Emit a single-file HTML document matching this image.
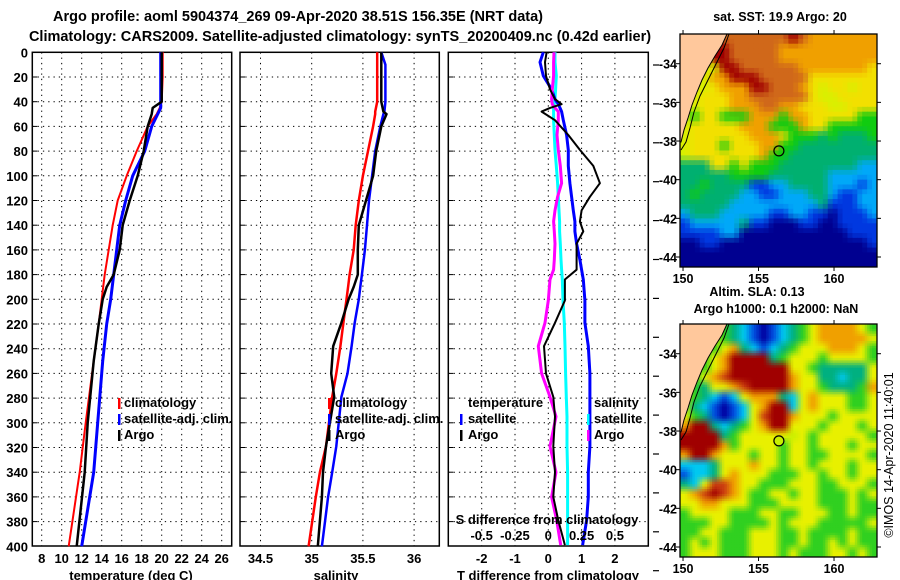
<!DOCTYPE html>
<html><head><meta charset="utf-8">
<style>
html,body{margin:0;padding:0;background:#fff;}
svg{display:block;font-family:"Liberation Sans",Arial,sans-serif;font-weight:bold;}
</style></head>
<body>
<svg id="fig" xmlns="http://www.w3.org/2000/svg" width="900" height="580" viewBox="0 0 900 580">
<text x="298" y="21" font-size="14.5" text-anchor="middle">Argo profile: aoml 5904374_269 09-Apr-2020 38.51S 156.35E (NRT data)</text>
<text x="340" y="41" font-size="14.5" text-anchor="middle">Climatology: CARS2009. Satellite-adjusted climatology: synTS_20200409.nc (0.42d earlier)</text>
<g id="plots"></g>
<text x="780" y="21" font-size="12.5" text-anchor="middle">sat. SST: 19.9 Argo: 20</text>
<text x="757" y="296" font-size="12.5" text-anchor="middle">Altim. SLA: 0.13</text>
<text x="776" y="313" font-size="12.5" text-anchor="middle">Argo h1000: 0.1 h2000: NaN</text>
<text x="0" y="0" font-size="12.5" font-weight="normal" text-anchor="middle" transform="translate(893,455) rotate(-90)">©IMOS 14-Apr-2020 11:40:01</text>
</svg>
<script>
// ---- temperature panel data ----
const tDepth = [0,20,40,45,50,60,80,100,120,140,160,180,190,200,220,250,300,340,400];
const tClim  = [20.1,20.1,20.0,19.8,19.5,18.6,17.5,16.5,15.6,15.1,14.7,14.3,14.15,14.0,13.7,13.2,12.4,11.8,10.7];
const tSat   = [19.9,19.9,19.9,19.9,19.6,19.0,18.3,17.1,16.4,15.8,15.5,15.2,15.05,14.9,14.5,14.1,13.6,13.2,12.0];
const tArgo  = [20.0,20.0,20.0,19.1,19.0,18.6,18.2,17.6,16.8,16.1,15.8,15.2,14.5,14.1,13.7,13.2,12.6,12.3,11.5];
const tTicks = [8,10,12,14,16,18,20,22,24,26];
// ---- salinity panel data ----
const sDepth = [0,10,40,48,50,60,80,100,120,140,160,180,190,200,219,238,260,279,319,340,360,400];
const sClim  = [35.64,35.64,35.64,35.62,35.62,35.60,35.55,35.50,35.46,35.43,35.41,35.37,35.355,35.34,35.31,35.28,35.24,35.20,35.14,35.08,35.04,34.97];
const sSat   = [35.68,35.72,35.72,35.71,35.70,35.67,35.62,35.59,35.56,35.54,35.52,35.49,35.475,35.46,35.42,35.39,35.35,35.29,35.24,35.20,35.16,35.10];
const sArgo  = [35.68,35.68,35.68,35.70,35.73,35.68,35.63,35.60,35.53,35.46,35.45,35.45,35.41,35.36,35.29,35.21,35.19,35.22,35.14,35.11,35.10,35.06];
const sTicks = [34.5,35,35.5,36];
// ---- difference panel data ----
const dDepth = [0,8,19,30,38,42,45,48,55,67,79,92,106,117,128,137,145,155,168,176,184,201,219,238,260,279,295,319,340,360,379,399];
const dTArgo = [-0.05,-0.1,-0.07,0.05,0.2,0.4,0.05,-0.2,0.2,0.6,0.95,1.35,1.55,1.25,1.0,0.95,1.05,0.85,0.85,0.85,0.5,0.5,0.2,-0.13,-0.07,0.15,0.2,0.15,0.2,0.15,0.3,0.5];
const dTSat  = [-0.15,-0.25,-0.15,0.1,0.2,0.3,0.35,0.4,0.45,0.55,0.6,0.6,0.65,0.7,0.75,0.8,0.8,0.85,0.95,1.0,1.05,1.1,1.1,1.2,1.25,1.25,1.25,1.25,1.2,1.2,1.15,1.03];
const dSArgo = [0.043,0.04,0.04,0.03,0.025,0.03,0.05,0.075,0.075,0.065,0.075,0.09,0.1,0.07,0.05,0.04,0.045,0.05,0.045,0.04,0.013,0.0,-0.025,-0.075,-0.05,0.013,0.058,0.013,0.058,0.025,0.063,0.093];
const dSSat  = [0.05,0.05,0.06,0.055,0.05,0.045,0.04,0.04,0.04,0.045,0.05,0.06,0.07,0.075,0.08,0.085,0.085,0.09,0.095,0.1,0.105,0.11,0.12,0.125,0.13,0.135,0.14,0.14,0.145,0.145,0.145,0.145];
const dTTicks = [-2,-1,0,1,2];
const dSTicks = [-0.5,-0.25,0,0.25,0.5];
const depthTicks = [0,20,40,60,80,100,120,140,160,180,200,220,240,260,280,300,320,340,360,380,400];
// ---- map grids (colour codes per cell) ----
const sstGrid = [
"LLLRoooooooRoOOOOOOO","LLLRRoooooOOOOOOOOOO","LLyRRoooooOOOOOOOOOO","LLyyRRooooooOOOOOOOY",
"LyyOORRRoooooYYYYYYY","LyyYOOORRoooOYyYYyYY","LyYYYOOooooooYyyYYYY","yyYYYOOOooOOYYYyyYYY",
"ygYYgggOOOgOOYYYYYgg","yYYYYYOOOgggOYYggggg","yYYYYYYOOOYgggGgGGGg","yYYYgYYYOOggGGGGGGGG",
"yYYYYYYYOggGGGGGGGGG","GGGYYgYgggGGGGGGGGcc","GGGGGggggGGGGGGccccc","GGgGGGGbbccGGGGcccbc",
"GgGGGGccbbcccGGcbbcc","GGGGGcccccccccGbbbcc","cGGGcccccbbccbbnbbbc","bcccccGbbnnnbbnnbbbb",
"bbbbccnnnnnnnnnnnbbb","nnbbnnnnnnnnnnnnnnnb","nnnnnnnnnnnnnnnnnnnn","nnnnnnnnnnnnnnnnnnnn"];
const slaGrid = [
"LLLYgGcbnbcGgYOOOOYg","LLLygGcbnbcGgYOOOOOY","LLygYOGcbcGgYYYOOOYg","LygYORRRRGgYYYgYYYYg",
"LygYORRRRRRYYgGGGGGY","LgYOrRRRRRROYYGGcGGY","LgGYYOrRRRROYYgGGGgO","ygGcbcYOOOGcYOYYYggY",
"yGcbnbcYORRcYOYYYggY","YgGbnbcYrRROYYYgYYYY","ORRGcGgYORRYYYgYYYgY","RRRRGgYYYYYyYgYYYYYg",
"RRRROgYYYYgYYgYYYgYY","ORROYYYgYYgYYggYYYYg","cccGYYYOYYgYYgYYYgYY","bccGYOYYYgggYYgYYgYY",
"GcYrrOYYgggYYYggYYYg","YOrRrOYggYYgYYgggYgY","YYOOYYYgggYYYYgggYgg","gYYYYgggYYggYYYggYgg",
"gggYYggggYgYYYgggggY","ggYYgggYYYggYggggYgg","gYgYgggYYYggYggYgYgg","gYYYgggYYYgYgggYYgYg"];
const mapLatTicks = [-34,-36,-38,-40,-42,-44];
const mapLonTicks = [150,155,160];
const argoLon = 156.35, argoLat = -38.51;

const NS = "http://www.w3.org/2000/svg";
const root = document.getElementById('plots');
function mk(tag, attrs, parent) {
  const e = document.createElementNS(NS, tag);
  for (const k in attrs) e.setAttribute(k, attrs[k]);
  (parent || root).appendChild(e);
  return e;
}
const Y0 = 52.3, YPX = 1.235, YB = 546;
function yD(d) { return Y0 + d * YPX; }

function panel(name, x0, x1, xf, ticks, tickFmt) {
  const g = mk('g', {});
  
  
  ticks.forEach(t => {
    const gl = mk('line', {x1: xf(t), x2: xf(t), y1: Y0, y2: YB, stroke: '#000', 'stroke-width': 1, 'stroke-dasharray': '1.3,4'}, g);
    
    
    const tl = mk('text', {x: xf(t), y: 563, 'font-size': 13, 'text-anchor': 'middle'}, g);
    tl.textContent = tickFmt(t);
    
    
  });
  depthTicks.forEach(d => {
    if (d === 0 || d === 400) return;
    const gl = mk('line', {x1: x0, x2: x1, y1: yD(d), y2: yD(d), stroke: '#000', 'stroke-width': 1, 'stroke-dasharray': '1.3,4'}, g);
    
    
    mk('line', {x1: x0, x2: x0 + 5, y1: yD(d), y2: yD(d), stroke: '#000', 'stroke-width': 1}, g);
  });
  const fr = mk('rect', {x: x0, y: Y0, width: x1 - x0, height: YB - Y0, fill: 'none', stroke: '#000', 'stroke-width': 1.5}, g);
  
  
  return g;
}
function series(g, name, xs, ds, xf, color, w) {
  let p = '';
  for (let i = 0; i < xs.length; i++) p += (i ? 'L' : 'M') + xf(xs[i]).toFixed(1) + ',' + yD(ds[i]).toFixed(1);
  const e = mk('path', {d: p, fill: 'none', stroke: color, 'stroke-width': w, 'stroke-linejoin': 'round'}, g);
  
  
}
function txt(g, name, x, y, s, anchor, size) {
  const e = mk('text', {x: x, y: y, 'font-size': size || 13, 'text-anchor': anchor || 'start'}, g);
  e.textContent = s;
  
  
  return e;
}
function legTick(g, x, y, color) {
  const e = mk('rect', {x: x, y: y - 10, width: 2.5, height: 11, fill: color}, g);
  
  
}

depthTicks.forEach(d => {
  const e = mk('text', {x: 28, y: yD(d) + 5, 'font-size': 13, 'text-anchor': 'end'});
  e.textContent = d;
  
  
});

// Panel 1 temperature
const xT = t => 41.7 + (t - 8) * 10;
const g1 = panel('temperature-panel', 32.3, 231.7, xT, tTicks, t => String(t));
series(g1, 'temp-climatology-line', tClim, tDepth, xT, '#f00', 2);
series(g1, 'temp-satellite-line', tSat, tDepth, xT, '#00f', 3);
series(g1, 'temp-argo-line', tArgo, tDepth, xT, '#000', 2.5);
txt(g1, 'x-axis-title', 131, 580, 'temperature (deg C)', 'middle');
legTick(g1, 118, 408, '#f00'); txt(g1, 'legend-climatology', 124, 407, 'climatology');
legTick(g1, 118, 424, '#00f'); txt(g1, 'legend-satellite', 124, 423, 'satellite-adj. clim.');
legTick(g1, 118, 440, '#000'); txt(g1, 'legend-argo', 124, 439, 'Argo');

// Panel 2 salinity
const xS = s => 311.7 + (s - 35) * 102.4;
const g2 = panel('salinity-panel', 240, 439.3, xS, sTicks, t => String(t));
series(g2, 'sal-climatology-line', sClim, sDepth, xS, '#f00', 2.5);
series(g2, 'sal-satellite-line', sSat, sDepth, xS, '#00f', 2.5);
series(g2, 'sal-argo-line', sArgo, sDepth, xS, '#000', 2.5);
txt(g2, 'x-axis-title', 336, 580, 'salinity', 'middle');
legTick(g2, 328, 408, '#f00'); txt(g2, 'legend-climatology', 335, 407, 'climatology');
legTick(g2, 328, 424, '#00f'); txt(g2, 'legend-satellite', 335, 423, 'satellite-adj. clim.');
legTick(g2, 328, 440, '#000'); txt(g2, 'legend-argo', 335, 439, 'Argo');

// Panel 3 differences
const xDT = v => 548.3 + v * 33.3;
const xDS = v => 548.3 + v * 133.3;
const g3 = panel('difference-panel', 448.3, 648.3, xDT, dTTicks, t => String(t));
series(g3, 'sdiff-satellite-line', dSSat, dDepth, xDS, '#0ff', 3);
series(g3, 'tdiff-satellite-line', dTSat, dDepth, xDT, '#00f', 3);
series(g3, 'sdiff-argo-line', dSArgo, dDepth, xDS, '#f0f', 3);
series(g3, 'tdiff-argo-line', dTArgo, dDepth, xDT, '#000', 2);
txt(g3, 'x-axis-title', 548, 580, 'T difference from climatology', 'middle');
txt(g3, 's-axis-title', 547, 524, 'S difference from climatology', 'middle');
dSTicks.forEach(v => txt(g3, 's-tick-label', xDS(v), 540, String(v), 'middle'));
txt(g3, 'legend-temperature-heading', 468, 407, 'temperature');
legTick(g3, 460, 424, '#00f'); txt(g3, 'legend-t-satellite', 468, 423, 'satellite');
legTick(g3, 460, 440, '#000'); txt(g3, 'legend-t-argo', 468, 439, 'Argo');
txt(g3, 'legend-salinity-heading', 594, 407, 'salinity');
legTick(g3, 587, 424, '#0ff'); txt(g3, 'legend-s-satellite', 594, 423, 'satellite');
legTick(g3, 587, 440, '#f0f'); txt(g3, 'legend-s-argo', 594, 439, 'Argo');
for (let i = 0; i < 14; i++) {
  const yy = 65 + i * 38.9;
  if (yy > 580) break;
  mk('line', {x1: 653, x2: 659, y1: yy, y2: yy, stroke: '#000', 'stroke-width': 1.2});
}

// Maps
const sstCol = {L:'#ffc89c',R:'#a00000',o:'#d0681a',O:'#f0a000',Y:'#f2e000',y:'#d8f000',g:'#10cc10',G:'#00b070',c:'#00a8f8',b:'#0038e0',n:'#000090'};
const slaCol = {L:'#ffc89c',R:'#a00000',r:'#cc4010',O:'#f0a000',Y:'#e8f000',y:'#c8f000',g:'#30d020',G:'#00b080',c:'#00c8f0',b:'#0050e0',n:'#0000a0'};
function hex2rgb(h) { return [parseInt(h.substr(1,2),16), parseInt(h.substr(3,2),16), parseInt(h.substr(5,2),16)]; }
function drawMap(name, top, grid, cols, markerFill, sub) {
  const L = 680, R = 877, B = top + 233;
  const lonX = lon => L + (lon - 149.8) * 15.1;
  const latY = lat => top + 29.7 + (-34 - lat) * 19.33;
  const g = mk('g', {});
  
  
  const nr = grid.length, nc = grid[0].length;
  const rgb = grid.map(row => row.split('').map(ch => hex2rgb(cols[ch])));
  const fr = nr * sub, fc = nc * sub;
  const cw = (R - L) / fc, ch = (B - top) / fr;
  for (let r = 0; r < fr; r++) for (let c = 0; c < fc; c++) {
    let col;
    if (sub === 1) col = rgb[r][c];
    else {
      const gy = Math.min(Math.max((r + 0.5) / sub - 0.5, 0), nr - 1);
      const gx = Math.min(Math.max((c + 0.5) / sub - 0.5, 0), nc - 1);
      const y0 = Math.floor(gy), x0 = Math.floor(gx);
      const y1 = Math.min(y0 + 1, nr - 1), x1 = Math.min(x0 + 1, nc - 1);
      const fy = gy - y0, fx = gx - x0;
      col = [0,1,2].map(k => Math.round(
        rgb[y0][x0][k]*(1-fx)*(1-fy) + rgb[y0][x1][k]*fx*(1-fy) +
        rgb[y1][x0][k]*(1-fx)*fy + rgb[y1][x1][k]*fx*fy));
    }
    mk('rect', {x: (L + c * cw).toFixed(2), y: (top + r * ch).toFixed(2), width: (cw + 0.5).toFixed(2), height: (ch + 0.5).toFixed(2), fill: `rgb(${col[0]},${col[1]},${col[2]})`}, g);
  }
  const land = mk('path', {d: `M${L},${top} L727,${top} L722,${top+11} L715,${top+22} L708,${top+34} L702,${top+46} L697,${top+58} L692,${top+71} L688,${top+84} L684,${top+96} L681,${top+108} L${L},${top+108} Z`, fill: '#ffc89c', stroke: '#000', 'stroke-width': 1}, g);
  
  
  mk('path', {d: `M729,${top} L724,${top+14} L716,${top+30} L708,${top+46} L700,${top+62} L694,${top+78} L690,${top+94} L686,${top+108} L681,${top+116}`, fill: 'none', stroke: '#000', 'stroke-width': 1}, g);
  mk('rect', {x: L, y: top, width: R - L, height: B - top, fill: 'none', stroke: '#000', 'stroke-width': 1.3}, g);
  mapLatTicks.forEach(lat => {
    const y = latY(lat);
    mk('line', {x1: L - 4, x2: L, y1: y, y2: y, stroke: '#000'}, g);
    mk('line', {x1: R, x2: R + 4, y1: y, y2: y, stroke: '#000'}, g);
    txt(g, 'lat-tick-label', L - 3, y + 5, String(lat), 'end', 12.5);
  });
  mapLonTicks.forEach(lon => {
    const x = lonX(lon);
    mk('line', {x1: x, x2: x, y1: top - 4, y2: top, stroke: '#000'}, g);
    mk('line', {x1: x, x2: x, y1: B, y2: B + 4, stroke: '#000'}, g);
    txt(g, 'lon-tick-label', x, B + 16, String(lon), 'middle', 12.5);
  });
  const m = mk('circle', {cx: lonX(argoLon), cy: latY(argoLat), r: 5, fill: markerFill, stroke: '#000', 'stroke-width': 1.2}, g);
  
  
}
drawMap('sst-map', 34, sstGrid, sstCol, 'none', 2);
drawMap('sla-map', 324, slaGrid, slaCol, '#c8f000', 4);
</script>
</body></html>
